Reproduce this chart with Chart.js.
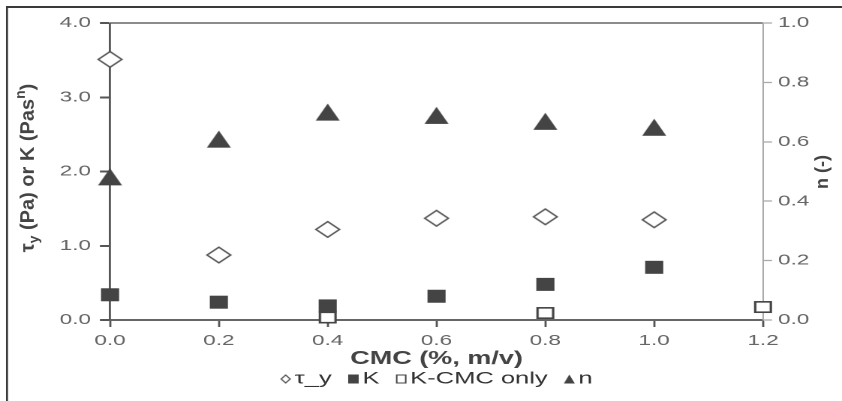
<!DOCTYPE html>
<html>
<head>
<meta charset="utf-8">
<script src="https://cdn.jsdelivr.net/npm/chart.js@4/dist/chart.umd.min.js"></script>
<style>
  html, body { margin: 0; padding: 0; background: #fff; overflow: hidden; }
  #wrap {
    position: absolute; left: 0; top: 0;
    width: 561px; height: 401px;
    transform-origin: 0 0;
    transform: scaleX(1.500891);
  }
</style>
</head>
<body>
<div id="wrap"><canvas id="c"></canvas></div>
<script>
// CMC concentration (%, m/v)
const cmcLevels = [0.0, 0.2, 0.4, 0.6, 0.8, 1.0];
// yield stress tau_y (Pa)
const tauY = [3.51, 0.875, 1.22, 1.37, 1.39, 1.35];
// consistency index K (Pa s^n)
const kValues = [0.34, 0.24, 0.19, 0.32, 0.48, 0.71];
// K for CMC solutions alone
const cmcOnlyLevels = [0.4, 0.8, 1.2];
const kCmcOnly = [0.034, 0.094, 0.175];
// flow behaviour index n (-)
const nValues = [0.482, 0.609, 0.700, 0.689, 0.669, 0.649];

const seriesNames = ['τ_y', 'K', 'K-CMC only', 'n'];
const xTicks = [0.0, 0.2, 0.4, 0.6, 0.8, 1.0, 1.2];

// horizontal stretch of the whole figure
const S = 842 / 561;
const FONT = '"Liberation Sans", Arial, Helvetica, sans-serif';

// marker bitmap; extra left padding shifts the glyph right inside its box
function marker(kind, w, h, fill, stroke, lw, shiftPad) {
  const k = 4, pad = 1, left = pad + (shiftPad || 0);
  const W = w + left + pad, H = h + 2 * pad;
  const c = document.createElement('canvas');
  c.width = Math.round(W * k);
  c.height = Math.round(H * k);
  const g = c.getContext('2d');
  g.scale(c.width / W, c.height / H);
  g.translate(left, pad);
  const i = stroke ? lw / 2 : 0;
  g.beginPath();
  if (kind === 'diamond') {
    g.moveTo(w / 2, i); g.lineTo(w - i, h / 2); g.lineTo(w / 2, h - i); g.lineTo(i, h / 2); g.closePath();
  } else if (kind === 'square') {
    g.rect(i, i, w - 2 * i, h - 2 * i);
  } else {
    g.moveTo(w / 2, 0); g.lineTo(w, h); g.lineTo(0, h); g.closePath();
  }
  g.fillStyle = fill; g.fill();
  if (stroke) { g.strokeStyle = stroke; g.lineWidth = lw; g.lineJoin = 'miter'; g.stroke(); }
  const img = new Image(W, H);
  img.src = c.toDataURL();
  return img;
}

const pointIcons = [
  marker('diamond', 17, 17, '#ffffff', '#555555', 1.3),
  marker('square', 12.5, 13, '#444444'),
  marker('square', 12, 12, '#ffffff', '#444444', 1.6),
  marker('triangle', 16, 17.5, '#444444')
];
const legendIcons = [
  marker('diamond', 7, 9, '#ffffff', '#555555', 1, 6),
  marker('square', 7, 9, '#444444', null, 0, 6),
  marker('square', 7, 9, '#ffffff', '#444444', 1, 6),
  marker('triangle', 7.5, 9, '#444444', null, 0, 6)
];

function pairs(xs, ys) { return xs.map((x, i) => ({ x: x, y: ys[i] })); }

function drawVertical(ctx, bx, cy, parts) {
  ctx.save();
  ctx.translate(bx, cy);
  ctx.scale(1 / S, 1);
  ctx.rotate(-Math.PI / 2);
  let total = 0;
  parts.forEach(p => { ctx.font = p.font; p.w = ctx.measureText(p.t).width; total += p.w; });
  let x = -total / 2;
  ctx.textAlign = 'left';
  ctx.textBaseline = 'alphabetic';
  parts.forEach(p => { ctx.font = p.font; ctx.fillText(p.t, x, p.dy || 0); x += p.w; });
  ctx.restore();
}

const decor = {
  id: 'decor',
  afterLayout(chart) {
    const lg = chart.legend, a = chart.chartArea;
    if (!lg) return;
    const h = lg.height;
    const pad = lg.options.labels.padding;
    lg.left = a.left; lg.right = a.right; lg.width = a.right - a.left;
    lg.top = 379 - pad - 17 / 2; lg.bottom = lg.top + h;
  },
  beforeDraw(chart) {
    const { ctx, chartArea: a } = chart;
    ctx.save();
    ctx.fillStyle = '#fff';
    ctx.fillRect(0, 0, chart.width, chart.height);
    ctx.strokeStyle = '#3a3a3a';
    ctx.lineWidth = 2;
    ctx.beginPath(); ctx.moveTo(6 / S, 7); ctx.lineTo(chart.width, 7); ctx.stroke();
    ctx.lineWidth = 2 / S;
    ctx.beginPath(); ctx.moveTo(7 / S, 6); ctx.lineTo(7 / S, chart.height); ctx.stroke();
    ctx.strokeStyle = '#666';
    ctx.lineWidth = 1.5;
    ctx.beginPath(); ctx.moveTo(a.left, a.top); ctx.lineTo(a.right, a.top); ctx.stroke();
    ctx.restore();
  },
  afterDraw(chart) {
    const { ctx, chartArea: a } = chart;
    ctx.save();
    ctx.fillStyle = '#444';
    ctx.font = 'bold 18px ' + FONT;
    ctx.textAlign = 'center';
    ctx.textBaseline = 'middle';
    ctx.fillText('CMC (%, m/v)', (a.left + a.right) / 2, 359);
    const big = 'bold 20px ' + FONT, small = 'bold 14px ' + FONT;
    drawVertical(ctx, 33.5 / S, 168, [
      { t: 'τ', font: big },
      { t: 'y', font: small, dy: 5 },
      { t: ' (Pa) or K (Pas', font: big },
      { t: 'n', font: small, dy: -9 },
      { t: ')', font: big }
    ]);
    drawVertical(ctx, 828 / S, 172, [{ t: 'n (-)', font: 'bold 18px ' + FONT }]);
    ctx.restore();
  }
};

const tickFont = { family: FONT, size: 15 };

function build() {
  new Chart(document.getElementById('c'), {
    type: 'scatter',
    data: {
      datasets: [
        { label: seriesNames[0], data: pairs(cmcLevels, tauY), yAxisID: 'y', pointStyle: pointIcons[0], order: 1 },
        { label: seriesNames[1], data: pairs(cmcLevels, kValues), yAxisID: 'y', pointStyle: pointIcons[1], order: 1 },
        { label: seriesNames[2], data: pairs(cmcOnlyLevels, kCmcOnly), yAxisID: 'y', pointStyle: pointIcons[2], order: 0 },
        { label: seriesNames[3], data: pairs(cmcLevels, nValues), yAxisID: 'y1', pointStyle: pointIcons[3], order: 1 }
      ].map(d => Object.assign(d, { pointRadius: 10, pointHoverRadius: 10, showLine: false, clip: false }))
    },
    options: {
      responsive: true,
      maintainAspectRatio: false,
      animation: false,
      devicePixelRatio: 2,
      events: [],
      layout: { padding: { top: 23, left: 0, right: 0, bottom: 0 } },
      plugins: {
        tooltip: { enabled: false },
        legend: {
          position: 'bottom',
          labels: {
            usePointStyle: true,
            boxWidth: 1,
            boxHeight: 9,
            padding: 11,
            color: '#333',
            font: { family: FONT, size: 17 },
            sort: (a, b) => a.datasetIndex - b.datasetIndex,
            generateLabels(chart) {
              const items = Chart.defaults.plugins.legend.labels.generateLabels(chart);
              items.forEach(it => { it.pointStyle = legendIcons[it.datasetIndex]; it.lineWidth = 0; });
              return items;
            }
          }
        }
      },
      scales: {
        x: {
          type: 'linear',
          min: xTicks[0],
          max: xTicks[xTicks.length - 1],
          afterBuildTicks(axis) { axis.ticks = xTicks.map(v => ({ value: v })); },
          afterFit(axis) { axis.height = axis.chart.height - 320 - (axis.chart.legend ? axis.chart.legend.height : 0); },
          border: { display: true, color: '#666', width: 2 },
          grid: { drawOnChartArea: false, drawTicks: true, tickLength: 7, tickColor: '#555', tickWidth: 1.4 },
          ticks: { padding: 5, color: '#666', font: tickFont, maxRotation: 0, autoSkip: false,
                   callback: v => Number(v).toFixed(1) }
        },
        y: {
          position: 'left',
          min: 0, max: 4,
          afterFit(axis) { axis.width = 110 / S; },
          border: { display: true, color: '#555', width: 1.4 },
          grid: { drawOnChartArea: false, drawTicks: true, tickLength: 6.7, tickColor: '#555', tickWidth: 2 },
          ticks: { stepSize: 1, padding: 6, color: '#666', font: tickFont, callback: v => Number(v).toFixed(1) }
        },
        y1: {
          position: 'right',
          min: 0, max: 1,
          afterFit(axis) { axis.width = 561 - 763 / S; },
          border: { display: true, color: '#aaa', width: 1 },
          grid: { drawOnChartArea: false, drawTicks: true, tickLength: 6, tickColor: '#aaa', tickWidth: 1.3 },
          ticks: { stepSize: 0.2, padding: 4, color: '#666', font: tickFont, callback: v => Number(v).toFixed(1) }
        }
      }
    },
    plugins: [decor]
  });
}

Promise.all(pointIcons.concat(legendIcons).map(img => img.decode().catch(() => null))).then(build);
</script>
</body>
</html>
